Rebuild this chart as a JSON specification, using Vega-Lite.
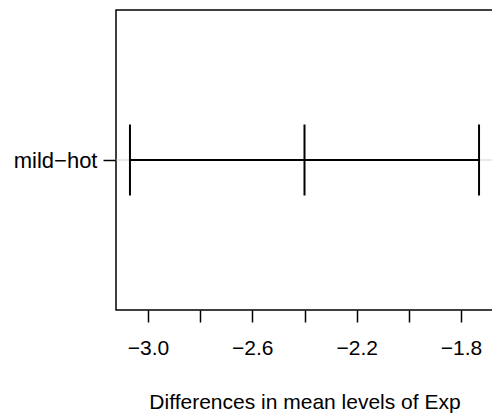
{
  "$schema": "https://vega.github.io/schema/vega-lite/v6.json",
  "width": 377,
  "height": 300,
  "autosize": "none",
  "padding": {"left": 116, "top": 10, "right": 0, "bottom": 104},
  "background": "white",
  "data": {"values": [{"comparison": "mild−hot", "diff": -2.4, "lwr": -3.069, "upr": -1.731}]},
  "config": {
    "view": {"stroke": "black", "strokeWidth": 1.5}
  },
  "encoding": {
    "y": {"field": "comparison", "type": "nominal", "scale": {"type": "point"}, "axis": {"title": null, "tickSize": 13, "labelPadding": 6, "grid": false, "domain": false, "tickColor": "black", "tickWidth": 1.5, "labelColor": "black", "labelFont": "Liberation Sans", "labelFontSize": 22}}
  },
  "layer": [
    {"mark": {"type": "rule", "color": "#d3d3d3", "strokeWidth": 1}, "encoding": {}},
    {"mark": {"type": "rule", "color": "black", "strokeWidth": 2},
     "encoding": {
       "x": {"field": "lwr", "type": "quantitative", "scale": {"domain": [-3.1225, -1.6775], "nice": false, "zero": false},
             "axis": {"title": "Differences in mean levels of Exp", "values": [-3.0, -2.8, -2.6, -2.4, -2.2, -2.0, -1.8], "labelExpr": "indexof([-3.0,-2.6,-2.2,-1.8], datum.value) >= 0 ? replace(format(datum.value, '.1f'), '-', '−') : ''", "tickSize": 12, "labelPadding": 15, "titlePadding": 33, "labelOverlap": false, "grid": false, "domain": false, "tickColor": "black", "tickWidth": 1.5, "labelColor": "black", "titleColor": "black", "labelFont": "Liberation Sans", "titleFont": "Liberation Sans", "labelFontSize": 21, "titleFontSize": 21, "titleFontWeight": "normal"}},
       "x2": {"field": "upr"}
     }},
    {"mark": {"type": "tick", "color": "black", "opacity": 1, "size": 71, "thickness": 2}, "encoding": {"x": {"field": "lwr", "type": "quantitative"}}},
    {"mark": {"type": "tick", "color": "black", "opacity": 1, "size": 71, "thickness": 2}, "encoding": {"x": {"field": "diff", "type": "quantitative"}}},
    {"mark": {"type": "tick", "color": "black", "opacity": 1, "size": 71, "thickness": 2}, "encoding": {"x": {"field": "upr", "type": "quantitative"}}}
  ]
}
